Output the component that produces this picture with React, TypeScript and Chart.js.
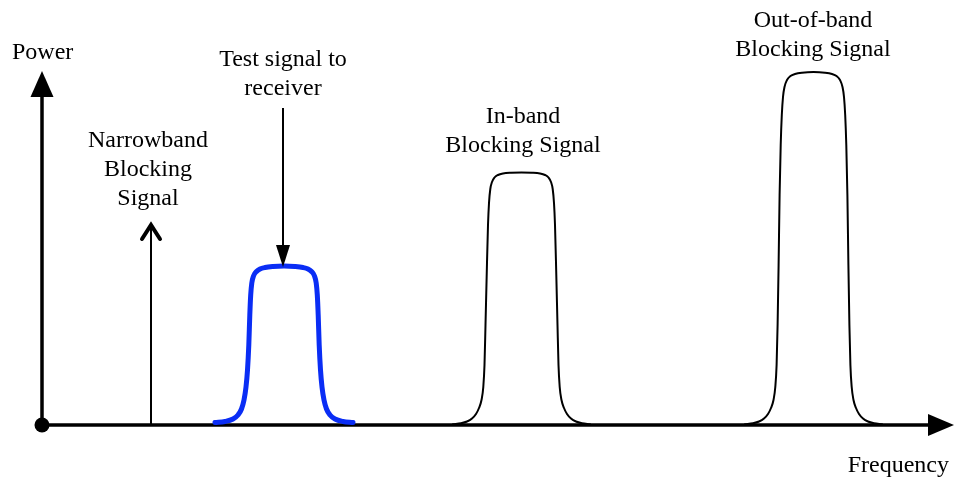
import React, { useEffect, useRef } from "react";
import { Chart, registerables } from "chart.js";

Chart.register(...registerables);

// Frequency / power in diagram units (origin at the axis corner)
const testFreq = [173, 183, 191, 196, 199.5, 202, 204, 205.5, 206.8, 207.8, 208.7, 209.8, 211.5, 214.5, 218, 223, 231, 242,
  253, 261, 266, 269.5, 272.5, 274.2, 275.3, 276.2, 277.2, 278.5, 280, 282, 284.5, 288, 293, 301, 311];
const testPower = [2.5, 3.5, 6, 10, 16, 25, 38, 55, 80, 110, 130, 142, 149, 153.5, 156, 157.5, 158.5, 159,
  158.5, 157.5, 156, 153.5, 149, 142, 130, 110, 80, 55, 38, 25, 16, 10, 6, 3.5, 2.5];

const inBandFreq = [411, 419, 425, 430, 434, 437, 439.5, 441.3, 442.5, 443.5, 444.7, 446, 447, 448.3, 450, 452.5, 456, 461, 469, 479.5,
  490, 498, 503, 506.5, 509, 510.7, 512, 513, 514.3, 515.5, 516.5, 517.7, 519.5, 522, 525, 529, 534, 540, 548];
const inBandPower = [0.8, 1.8, 3.5, 6.5, 11, 17, 25, 38, 60, 100, 150, 200, 222, 236, 243, 247.5, 250, 251.5, 252.3, 252.6,
  252.3, 251.5, 250, 247.5, 243, 236, 222, 200, 150, 100, 60, 38, 25, 17, 11, 6.5, 3.5, 1.8, 0.8];

const outBandFreq = [703, 711, 717, 722, 726, 729, 731.5, 733.3, 734.6, 735.6, 736.6, 737.6, 738.7, 739.8, 741, 742.5, 745, 748.5, 753, 760, 771.5,
  783, 790, 794.5, 798, 800.5, 802, 803.2, 804.3, 805.4, 806.4, 807.4, 808.4, 809.7, 811.5, 814, 817, 821, 826, 832, 840];
const outBandPower = [0.8, 1.8, 3.5, 6.5, 11, 17, 25, 38, 60, 100, 160, 230, 280, 310, 328, 338, 345, 349, 351, 352.3, 353,
  352.3, 351, 349, 345, 338, 328, 310, 280, 230, 160, 100, 60, 38, 25, 17, 11, 6.5, 3.5, 1.8, 0.8];

const narrowFreq = [109, 109];
const narrowPower = [0, 202];

const testArrowFreq = [241, 241];
const testArrowPower = [317, 178];

const xAxisFreq = [0, 890];
const xAxisPower = [0, 0];
const yAxisFreq = [0, 0];
const yAxisPower = [0, 332];

const labelPower = ["Power"];
const labelTest = ["Test signal to", "receiver"];
const labelNarrow = ["Narrowband", "Blocking", "Signal"];
const labelInBand = ["In-band", "Blocking Signal"];
const labelOutBand = ["Out-of-band", "Blocking Signal"];
const labelFreq = ["Frequency"];

const pts = (xs: number[], ys: number[]) => xs.map((x, i) => ({ x, y: ys[i] }));

const FONT = "24px 'Liberation Serif', 'DejaVu Serif', serif";

const annotations = [
  { lines: labelPower, x: -30, y: 366, align: "left" },
  { lines: labelTest, x: 241, y: 359, align: "center" },
  { lines: labelNarrow, x: 106, y: 278, align: "center" },
  { lines: labelInBand, x: 481, y: 302, align: "center" },
  { lines: labelOutBand, x: 771, y: 398, align: "center" },
  { lines: labelFreq, x: 907, y: -47, align: "right" },
];

const diagramPlugin = {
  id: "diagram",
  afterDatasetsDraw(chart: any) {
    const ctx = chart.ctx;
    const sx = chart.scales.x;
    const sy = chart.scales.y;
    const px = (v: number) => sx.getPixelForValue(v);
    const py = (v: number) => sy.getPixelForValue(v);
    ctx.save();
    ctx.fillStyle = "#000";
    ctx.strokeStyle = "#000";

    // x axis arrowhead
    const xe = px(xAxisFreq[1]);
    const x0 = py(0);
    ctx.beginPath();
    ctx.moveTo(xe - 4, x0 - 11);
    ctx.lineTo(xe + 22, x0);
    ctx.lineTo(xe - 4, x0 + 11);
    ctx.closePath();
    ctx.fill();

    // y axis arrowhead
    const yx = px(0);
    const ye = py(yAxisPower[1]);
    ctx.beginPath();
    ctx.moveTo(yx - 11.5, ye + 4);
    ctx.lineTo(yx, ye - 22);
    ctx.lineTo(yx + 11.5, ye + 4);
    ctx.closePath();
    ctx.fill();

    // test signal arrowhead (down)
    const tx = px(testArrowFreq[1]);
    const tb = py(testArrowPower[1]);
    ctx.beginPath();
    ctx.moveTo(tx - 7, tb - 2);
    ctx.lineTo(tx, tb + 20);
    ctx.lineTo(tx + 7, tb - 2);
    ctx.closePath();
    ctx.fill();

    // narrowband open chevron
    const nx = px(narrowFreq[1]);
    const nt = py(narrowPower[1]);
    ctx.lineWidth = 4;
    ctx.lineCap = "round";
    ctx.lineJoin = "miter";
    ctx.beginPath();
    ctx.moveTo(nx - 9, nt + 16);
    ctx.lineTo(nx, nt + 2);
    ctx.lineTo(nx + 9, nt + 16);
    ctx.stroke();

    // text labels
    ctx.font = FONT;
    ctx.textBaseline = "alphabetic";
    annotations.forEach((a) => {
      ctx.textAlign = a.align;
      a.lines.forEach((line, i) => {
        ctx.fillText(line, px(a.x), py(a.y) + i * 29);
      });
    });
    ctx.restore();
  },
};

export default function App() {
  const ref = useRef<HTMLCanvasElement | null>(null);
  useEffect(() => {
    document.body.style.margin = "0";
    const canvas = ref.current;
    if (!canvas) return;
    const pulse = (data: any, color: string, width: number) => ({
      data,
      borderColor: color,
      borderWidth: width,
      showLine: true,
      pointRadius: 0,
      cubicInterpolationMode: "monotone",
      borderCapStyle: "round",
      borderJoinStyle: "round",
      fill: false,
    });
    const line = (data: any, width: number) => ({
      data,
      borderColor: "#000",
      borderWidth: width,
      showLine: true,
      pointRadius: 0,
      tension: 0,
      fill: false,
    });
    const chart = new Chart(canvas, {
      type: "scatter",
      data: {
        datasets: [
          pulse(pts(testFreq, testPower), "#0a2df5", 5),
          pulse(pts(inBandFreq, inBandPower), "#000", 2),
          pulse(pts(outBandFreq, outBandPower), "#000", 2),
          line(pts(testArrowFreq, testArrowPower), 2),
          line(pts(narrowFreq, narrowPower), 2),
          {
            data: [{ x: 0, y: 0 }],
            pointRadius: 7.5,
            pointBackgroundColor: "#000",
            pointBorderWidth: 0,
            showLine: false,
          },
          line(pts(xAxisFreq, xAxisPower), 3.5),
          line(pts(yAxisFreq, yAxisPower), 3.5),
        ] as any,
      },
      options: {
        animation: false,
        responsive: false,
        maintainAspectRatio: false,
        layout: { padding: 0, autoPadding: false },
        events: [],
        plugins: { legend: { display: false }, tooltip: { enabled: false } },
        scales: {
          x: { type: "linear", min: -42, max: 912, display: false },
          y: { type: "linear", min: -53, max: 425, display: false },
        },
      },
      plugins: [diagramPlugin],
    } as any);
    return () => chart.destroy();
  }, []);
  return (
    <div
      style={{
        position: "fixed",
        left: 0,
        top: 0,
        width: 954,
        height: 478,
        overflow: "hidden",
        background: "#fff",
      }}
    >
      <canvas ref={ref} width={954} height={478} style={{ display: "block", width: 954, height: 478 }} />
    </div>
  );
}
